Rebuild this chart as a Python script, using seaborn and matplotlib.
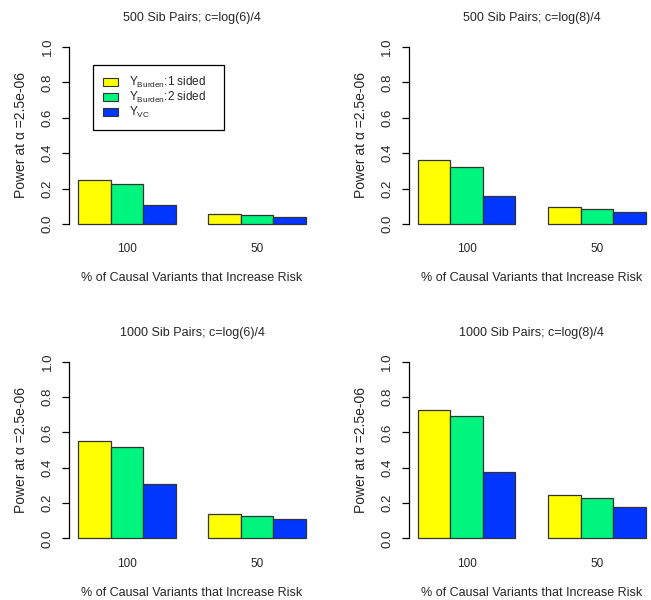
import matplotlib
matplotlib.use("Agg")
import matplotlib.pyplot as plt
from matplotlib.patches import Patch
import seaborn as sns
import pandas as pd

# Simulation summaries: power of each test by share of causal variants that increase risk
categories = ["100", "50"]
tests = ["burden1", "burden2", "vc"]
test_labels = [r"$\mathregular{Y_{Burden}}$:1 sided   ",
               r"$\mathregular{Y_{Burden}}$:2 sided   ",
               r"$\mathregular{Y_{VC}}$"]
colors = ["#FFFF00", "#00F57E", "#0036FF"]

titles = ["500 Sib Pairs; c=log(6)/4", "500 Sib Pairs; c=log(8)/4",
          "1000 Sib Pairs; c=log(6)/4", "1000 Sib Pairs; c=log(8)/4"]

# power values, one list per test: [100% increase risk, 50% increase risk]
burden1_500_c6 = [0.248, 0.055]
burden2_500_c6 = [0.224, 0.049]
vc_500_c6 = [0.107, 0.039]

burden1_500_c8 = [0.359, 0.094]
burden2_500_c8 = [0.323, 0.085]
vc_500_c8 = [0.158, 0.066]

burden1_1000_c6 = [0.549, 0.138]
burden2_1000_c6 = [0.519, 0.126]
vc_1000_c6 = [0.309, 0.109]

burden1_1000_c8 = [0.726, 0.247]
burden2_1000_c8 = [0.692, 0.226]
vc_1000_c8 = [0.375, 0.179]

panels = [
    (burden1_500_c6, burden2_500_c6, vc_500_c6),
    (burden1_500_c8, burden2_500_c8, vc_500_c8),
    (burden1_1000_c6, burden2_1000_c6, vc_1000_c6),
    (burden1_1000_c8, burden2_1000_c8, vc_1000_c8),
]

yticks = [0.0, 0.2, 0.4, 0.6, 0.8, 1.0]
ylabel = "Power at \u03b1 =2.5e-06"
xlabel = "% of Causal Variants that Increase Risk"

sns.set_theme(style="white")
plt.rcParams["font.family"] = ["Liberation Sans", "DejaVu Sans"]
plt.rcParams["mathtext.fontset"] = "custom"
plt.rcParams["mathtext.rm"] = "Liberation Sans"
plt.rcParams["mathtext.default"] = "regular"

W, H = 651, 600
fig = plt.figure(figsize=(W / 100, H / 100), dpi=100)

ax_w, ax_h = 246, 191
lefts = [69, 408.7]
tops = [40, 354.5]
positions = []
for top in tops:
    for left in lefts:
        positions.append([left / W, 1 - (top + ax_h) / H, ax_w / W, ax_h / H])

for i, (vals, pos, title) in enumerate(zip(panels, positions, titles)):
    ax = fig.add_axes(pos)
    rows = []
    for t, v in zip(tests, vals):
        for c, p in zip(categories, v):
            rows.append({"pct": c, "power": p, "test": t})
    df = pd.DataFrame(rows)
    sns.barplot(data=df, x="pct", y="power", hue="test", order=categories,
                hue_order=tests, palette=colors, width=0.75, gap=0,
                saturation=1, edgecolor="#333333", linewidth=0.9,
                legend=False, ax=ax)
    ax.set_xlim(-0.445, 1.445)
    ax.set_ylim(-0.04, 1.04)
    for s in ["top", "right", "bottom"]:
        ax.spines[s].set_visible(False)
    ax.spines["left"].set_bounds(0, 1)
    ax.spines["left"].set_color("black")
    ax.spines["left"].set_linewidth(0.9)
    ax.set_yticks(yticks)
    ax.set_yticklabels([f"{t:.1f}" for t in yticks], rotation=90, va="center")
    ax.tick_params(axis="y", length=5, width=0.9, color="black", pad=6,
                   labelsize=9.5, left=True)
    ax.tick_params(axis="x", length=0, pad=9, labelsize=8.5)
    ax.set_xlabel(xlabel, fontsize=9, labelpad=12)
    ax.set_ylabel(ylabel, fontsize=10, labelpad=10)
    ax.set_title(title, fontsize=9, pad=13.5)
    ax.grid(False)

    if i == 0:
        handles = [Patch(facecolor=c, edgecolor="#333333", linewidth=0.8)
                   for c in colors]
        leg = ax.legend(handles, test_labels, loc="upper left",
                        bbox_to_anchor=(0.098, 0.869), fontsize=8.5,
                        frameon=True, fancybox=False, framealpha=1,
                        edgecolor="black", handlelength=1.3,
                        handleheight=0.75, handletextpad=0.9,
                        labelspacing=0.0, borderpad=0.85, borderaxespad=0)
        leg.get_frame().set_linewidth(0.9)

fig.savefig("out.png", dpi=100)
